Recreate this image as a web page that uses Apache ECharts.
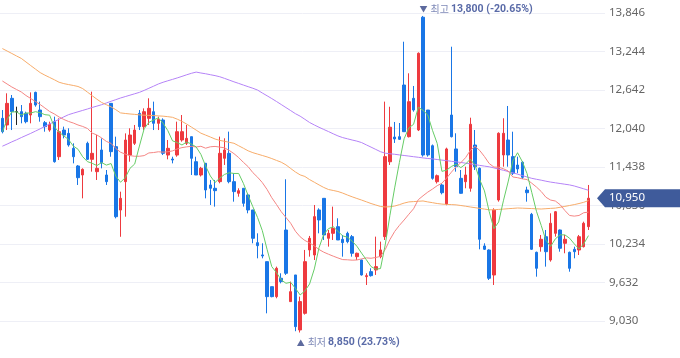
<!DOCTYPE html>
<html><head><meta charset="utf-8">
<script src="https://cdn.jsdelivr.net/npm/echarts/dist/echarts.min.js"></script>
<style>html,body{margin:0;padding:0;background:#fff}#c{width:680px;height:358px}</style>
</head><body><div id="c"></div>
<script>
// ---- data ----
const opens = [12199,12095,12512,12303,12303,12277,12251,12605,12329,12131,
12016,12147,11599,12016,11964,11730,11454,11313,11808,11558,
11365,11704,11313,12433,11756,10765,11209,11625,11808,12277,
12069,12199,12303,12121,12173,11625,11563,11625,11860,11808,
11912,11521,11313,11496,11157,11105,11209,11574,11652,11209,
11027,11105,11001,10766,10255,10063,9958,9567,9411,9698,
10453,9333,9750,8890,9150,10141,10062,10766,10948,10323,
10401,10505,10307,10401,10349,10036,9984,9724,9802,9828,
10036,10349,11520,11907,11912,12720,11912,12512,12017,13780,
12329,11771,11208,11157,10860,12251,11720,11261,11208,11105,
11782,11418,10203,10140,9749,10922,11626,11860,11600,11469,
11512,11078,10698,10104,10192,10348,9984,10401,10453,10245,
10104,10151,10140,10192,10505];
const closes = [11990,12433,12303,12303,12225,12147,12433,12407,12225,12069,
12105,11521,11990,11938,11782,11599,11271,11401,11558,11652,
11417,11506,11209,11678,10661,10948,11860,11938,12016,12069,
12303,12355,12121,12183,11652,11730,11547,11990,11990,11886,
11574,11313,11418,11079,11105,11068,11652,11704,11209,11053,
11068,10870,10766,10323,10208,10047,9411,9411,9854,9646,
9776,9489,8942,9333,9958,10323,10662,10610,10375,10401,
10479,10297,10255,10271,10089,10089,9750,9739,9739,9880,
10141,11600,12060,11876,11871,11990,12459,12329,13216,11626,
11626,11261,11302,11036,11720,11912,11443,11027,11313,12106,
11443,10308,10151,9698,10766,11965,11965,11626,11340,11407,
11277,11036,10151,9854,10308,10114,10558,10739,10167,10308,
9854,10114,10348,10558,10950];
const lows = [11964,12016,12016,12095,12121,12121,12121,12381,12147,11990,
11990,11506,11547,11886,11756,11495,11157,10948,11547,11365,
11235,11417,11157,11599,10635,10347,10661,11521,11782,12016,
12016,12095,12016,12016,11625,11558,11495,11599,11834,11782,
11313,11313,11290,10948,10844,10818,11183,11470,11183,10896,
10974,10818,10714,10245,10010,10010,9150,9400,9385,9619,
9750,9333,8870,8850,9130,10036,9984,10401,10297,10193,
10297,10297,10036,10245,10036,9984,9740,9593,9724,9750,
10010,10297,11470,11814,11860,11985,11900,12303,12000,11600,
11600,11240,11180,11010,10840,11900,11365,11020,11105,11052,
11391,10151,10140,9671,9593,10896,11443,11443,11313,11340,
11250,10896,10140,9723,10114,9880,9958,10349,10114,10089,
9801,10010,10062,10180,10453];
const highs = [12329,12590,12564,12381,12407,12303,12605,12616,12460,12157,
12147,12225,12199,12069,12043,11808,11469,11417,11834,12616,
11938,11886,11391,12433,11912,11052,11964,12043,12095,12329,
12355,12512,12460,12225,12199,11860,11599,12147,12251,12095,
11912,11599,11440,11496,11235,11235,11913,11887,11991,11339,
11105,11105,11027,10766,10401,10245,9958,9567,9880,9776,
11246,9646,9750,9411,10141,10360,10844,10792,10948,10453,
10818,10636,10375,10427,10375,10099,9990,9776,9854,10349,
10271,12460,12380,12142,12126,13397,12903,12705,13230,13800,
12330,11790,11320,11180,11740,13319,11965,11391,11443,12209,
12017,11430,10245,10150,10792,11980,12200,12392,11990,11600,
11530,11130,10720,10115,10375,10453,10714,10750,10460,10375,
10115,10192,10375,10583,11157];
// moving-average values before enough history is visible
const ma5Head = [11990,12180,12300,12300];
const ma20Head = [12783,12736,12689,12650,12611,12556,12509,12462,12415,12361,
12306,12267,12220,12181,12150,12126,12095,12072,12040];
// 60-day and 120-day averages
const ma60 = [13290,13252,13213,13174,13136,13080,13024,12969,12914,12874,
12838,12802,12763,12742,12727,12713,12697,12664,12609,12553,
12498,12447,12412,12378,12334,12284,12275,12267,12261,12253,
12248,12245,12242,12237,12233,12225,12215,12186,12151,12109,
12062,12015,11967,11937,11907,11876,11854,11840,11824,11809,
11770,11731,11691,11662,11640,11618,11596,11570,11541,11513,
11471,11415,11360,11315,11290,11241,11200,11158,11118,11086,
11071,11055,11030,11000,10972,10946,10921,10894,10867,10844,
10821,10813,10817,10827,10849,10874,10892,10897,10902,10907,
10892,10880,10867,10858,10853,10850,10846,10836,10825,10813,
10802,10791,10780,10769,10769,10775,10780,10786,10791,10797,
10794,10791,10788,10784,10781,10786,10791,10795,10808,10822,
10836,10850,10867,10886,10913];
const ma120 = [11763,11796,11831,11863,11898,11931,11964,11999,12035,12073,
12111,12148,12184,12222,12256,12279,12301,12323,12345,12369,
12390,12412,12439,12466,12491,12517,12539,12561,12583,12605,
12636,12669,12702,12736,12763,12786,12808,12831,12855,12880,
12903,12922,12908,12896,12881,12867,12849,12824,12797,12770,
12745,12719,12694,12669,12641,12595,12552,12508,12462,12415,
12367,12320,12272,12233,12184,12134,12095,12059,12025,11992,
11957,11924,11898,11879,11860,11843,11820,11784,11749,11713,
11677,11654,11645,11637,11627,11618,11609,11599,11590,11580,
11571,11565,11555,11546,11537,11527,11518,11509,11498,11487,
11476,11463,11452,11441,11424,11405,11387,11368,11347,11326,
11304,11282,11261,11246,11232,11216,11202,11191,11180,11169,
11158,11141,11119,11097,11074];
const yTicks = [9030, 9632, 10234, 10836, 11438, 12040, 12642, 13244, 13846];
const padDays = ['p1','p2','p3'];

// ---- build ----
const N = closes.length;
const days = closes.map((_, i) => 'D' + (i + 1));
const cats = days.concat(padDays);
const candles = days.map((_, i) => [opens[i], closes[i], lows[i], highs[i]]);
function movingAvg(n, head) {
  return closes.map((_, i) => {
    if (i < n - 1) return head[i];
    let s = 0; for (let k = i - n + 1; k <= i; k++) s += closes[k];
    return Math.round(s / n);
  });
}
const ma5 = movingAvg(5, ma5Head);
const ma20 = movingAvg(20, ma20Head);
const fmt = v => v.toLocaleString('en-US');
const FONT = "'Noto Sans', 'Noto Sans CJK KR', sans-serif";
const NUMFONT = "Roboto, 'Noto Sans', sans-serif";
const KFONT = "'Noto Sans CJK KR', sans-serif";

const chart = echarts.init(document.getElementById('c'), null, {renderer: 'canvas'});
const lineS = (name, data, color) => ({
  name, type: 'line', data, symbol: 'none', smooth: false, clip: false, silent: true,
  lineStyle: {width: 1, color}, itemStyle: {color}
});
chart.setOption({
  animation: false,
  grid: {left: 0, right: 75, top: 13, bottom: 37},
  xAxis: {type: 'category', data: cats, boundaryGap: true,
    axisLine: {show: false}, axisTick: {show: false}, axisLabel: {show: false}, splitLine: {show: false}},
  yAxis: {type: 'value', position: 'right', min: yTicks[0], max: yTicks[yTicks.length - 1],
    interval: yTicks[1] - yTicks[0], scale: true,
    axisLine: {show: false}, axisTick: {show: false},
    axisLabel: {margin: 4, color: '#666', fontSize: 11.5, fontFamily: FONT, formatter: fmt,
      showMinLabel: true, showMaxLabel: true},
    splitLine: {lineStyle: {color: '#eeeff6', width: 1}}},
  series: [
    {type: 'candlestick', data: candles, barWidth: 3, clip: false,
      itemStyle: {color: '#ee3a3f', color0: '#1976e6', borderColor: '#ee3a3f', borderColor0: '#1976e6',
        borderColorDoji: '#222', borderWidth: 1}},
    lineS('MA120', ma120, '#b583f7'),
    lineS('MA60', ma60, '#f7ac6a'),
    lineS('MA20', ma20, '#f48684'),
    lineS('MA5', ma5, '#66cc66')
  ]
});

// annotations placed through the chart's own scales
const hiIdx = highs.indexOf(Math.max(...highs));
const loIdx = lows.indexOf(Math.min(...lows));
const last = closes[N - 1];
const pct = v => ((last - v) / v * 100).toFixed(2) + '%';
const hp = chart.convertToPixel({gridIndex: 0}, [hiIdx, highs[hiIdx]]);
const lp = chart.convertToPixel({gridIndex: 0}, [loIdx, lows[loIdx]]);
const cp = chart.convertToPixel({gridIndex: 0}, [N - 1, last]);
const rich = {
  a: {fontSize: 8, fill: '#5d6a9e', fontFamily: KFONT},
  b: {fontSize: 10, fill: '#7f8ab8', fontFamily: KFONT, padding: [0, 2, 0, 3]},
  c: {fontSize: 10.5, fontWeight: 'bold', fill: '#5a6ba8', fontFamily: NUMFONT}
};
const yc = cp[1];
chart.setOption({
  graphic: [
    {type: 'text', z: 100, x: hp[0] - 3.5, y: hp[1] - 7,
      style: {text: '{a|▼}{b|최고}{c|' + fmt(highs[hiIdx]) + ' (' + pct(highs[hiIdx]) + ')}', rich,
        verticalAlign: 'middle', align: 'left'}},
    {type: 'text', z: 100, x: lp[0] - 3.5, y: lp[1] + 10,
      style: {text: '{a|▲}{b|최저}{c|' + fmt(lows[loIdx]) + ' (' + pct(lows[loIdx]) + ')}', rich,
        verticalAlign: 'middle', align: 'left'}},
    {type: 'polygon', z: 100,
      shape: {points: [[597, yc], [605, yc - 9], [680, yc - 9], [680, yc + 9], [605, yc + 9]]},
      style: {fill: '#3f5b9b'}},
    {type: 'text', z: 101, x: 609, y: yc,
      style: {text: fmt(last), fill: '#fff', fontSize: 11.5, fontFamily: FONT, verticalAlign: 'middle', align: 'left'}}
  ]
});
</script></body></html>
